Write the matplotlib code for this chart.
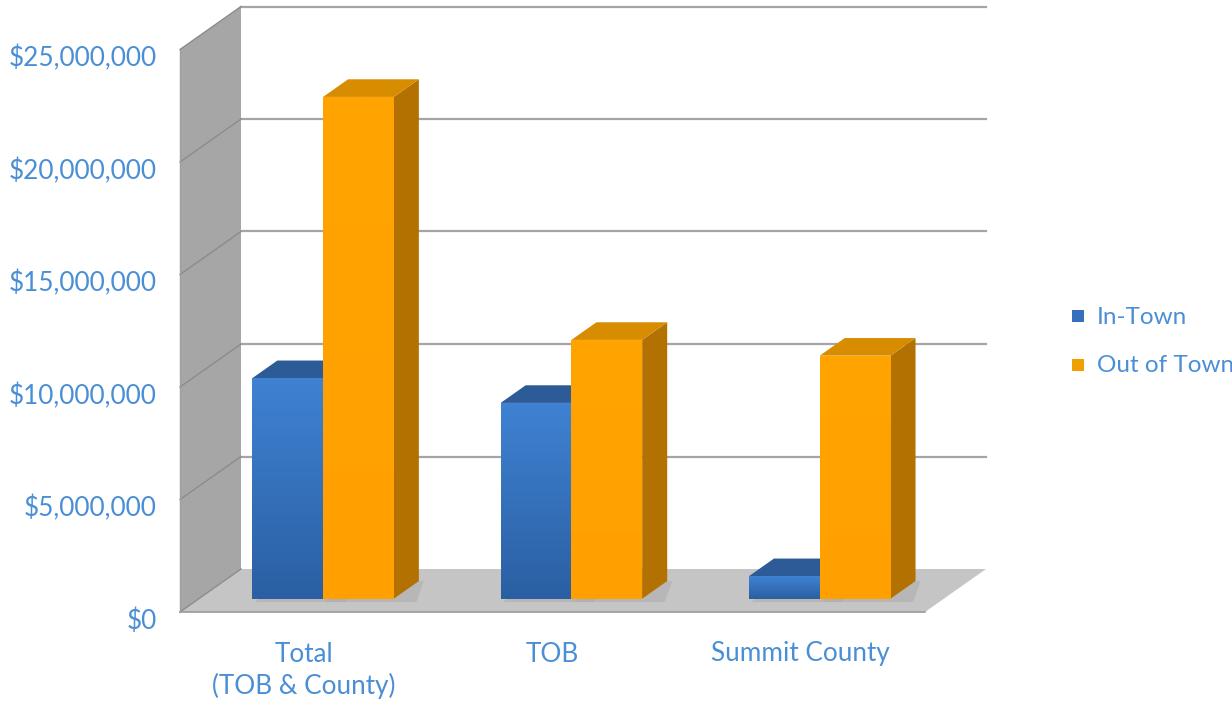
import matplotlib
matplotlib.use("Agg")
import matplotlib.pyplot as plt
from matplotlib.patches import Polygon, Rectangle
import numpy as np

categories = ["Total\n(TOB & County)", "TOB", "Summit County"]
series_names = ["In-Town", "Out of Town"]
in_town = [9.8e6, 8.7e6, 1.0e6]
out_of_town = [22.3e6, 11.5e6, 10.8e6]
y_ticks = [0, 5e6, 10e6, 15e6, 20e6, 25e6]
y_tick_labels = ["$0", "$5,000,000", "$10,000,000", "$15,000,000", "$20,000,000", "$25,000,000"]

TXT = "#4a8fd6"
plt.rcParams['font.family'] = ['Lato', 'DejaVu Sans']

W, H = 1232, 705
fig = plt.figure(figsize=(W / 100, H / 100), dpi=100)
ax = fig.add_axes([0, 0, 1, 1])
ax.set_axis_off()

# pixel scale: 248.33 px per category, 22.5 px per $1M
px_cat = 745 / 3.0
px_m = 22.5 / 1e6
x_left_px, y0_px = 180, 612
xlim = (-x_left_px / px_cat, (W - x_left_px) / px_cat)
ylim = (-(H - y0_px) / px_m, y0_px / px_m)

# depth offset (full depth) in data units
DDX = 61 / px_cat
DDY = 43 / px_m
ymax = 25e6
ncat = len(categories)

# side wall
ax.add_patch(Polygon([(0, 0), (0, ymax), (DDX, ymax + DDY), (DDX, DDY)],
                     closed=True, facecolor="#a6a6a6", edgecolor="none", zorder=1))
# floor
ax.add_patch(Polygon([(0, 0), (ncat, 0), (ncat + DDX, DDY), (DDX, DDY)],
                     closed=True, facecolor="#c5c5c5", edgecolor="none", zorder=1))
ax.plot([0, ncat], [0, 0], color="#9a9a9a", lw=1.2, zorder=1.5)
ax.plot([0, 0], [0, ymax], color="#9e9e9e", lw=1.0, zorder=1.5)
# gridlines
for v in y_ticks:
    if v > 0:
        ax.plot([DDX, ncat + DDX], [v + DDY, v + DDY], color="#a5a5a5", lw=1.6, zorder=1.2)
    ax.plot([0, DDX], [v, v + DDY], color="#8c8c8c", lw=1.0, zorder=1.2)

# bars
bw = 0.285
z0, z1 = 0.31, 0.72
styles = [
    dict(top="#2c5b97", side="#204880", grad=("#3f82d2", "#2b5fa3")),
    dict(top="#d88c00", side="#b27100", grad=("#ffa400", "#ffa000")),
]

def draw_bar(xc_left, val, st, zo):
    x0 = xc_left + z0 * DDX
    x1 = x0 + bw
    yb = z0 * DDY
    yt = val + z0 * DDY
    dx = (z1 - z0) * DDX
    dy = (z1 - z0) * DDY
    # shadow on floor
    ax.add_patch(Polygon([(x0 + 0.01, yb - 0.15e6), (x1 + dx * 0.9, yb - 0.15e6),
                          (x1 + dx * 1.2, yb + dy), (x0 + dx, yb + dy)],
                         closed=True, facecolor="#aaaaaa", edgecolor="none", alpha=0.5, zorder=zo - 0.5))
    # side
    ax.add_patch(Polygon([(x1, yb), (x1, yt), (x1 + dx, yt + dy), (x1 + dx, yb + dy)],
                         closed=True, facecolor=st["side"], edgecolor="none", zorder=zo))
    # top
    ax.add_patch(Polygon([(x0, yt), (x1, yt), (x1 + dx, yt + dy), (x0 + dx, yt + dy)],
                         closed=True, facecolor=st["top"], edgecolor="none", zorder=zo))
    # front with vertical gradient
    c1 = np.array(matplotlib.colors.to_rgb(st["grad"][0]))
    c2 = np.array(matplotlib.colors.to_rgb(st["grad"][1]))
    t = np.linspace(0, 1, 64)[:, None]
    img = (c1 * (1 - t) + c2 * t)[:, None, :]
    ax.imshow(img, extent=(x0, x1, yb, yt), aspect="auto", origin="upper",
              interpolation="bilinear", zorder=zo + 0.1)

zo = 3
for i in range(ncat):
    left0 = i + 0.5 - bw
    draw_bar(left0, in_town[i], styles[0], zo); zo += 1
    draw_bar(left0 + bw, out_of_town[i], styles[1], zo); zo += 1

ax.set_xlim(*xlim)
ax.set_ylim(*ylim)

FS = 18.8
# y tick labels
for v, lab in zip(y_ticks, y_tick_labels):
    ax.text(-23 / px_cat, v - 9 / px_m, lab, ha="right", va="center",
            fontsize=FS, color=TXT, zorder=20)

# x category labels (each line placed separately)
for i, lab in enumerate(categories):
    for k, line in enumerate(lab.split("\n")):
        ax.text(i + 0.5, -(42 + 32 * k) / px_m, line, ha="center", va="center",
                fontsize=FS, color=TXT, zorder=20)

# legend
leg_items = [(series_names[0], "#3470bb", 316), (series_names[1], "#f0a000", 365)]
for name, col, ypx in leg_items:
    fx = 1078 / W
    fy = 1 - ypx / H
    fig.patches.append(Rectangle((fx - 6 / W, fy - 6 / H), 12 / W, 12 / H,
                                 transform=fig.transFigure, facecolor=col,
                                 edgecolor="none", zorder=30))
    fig.text(1097 / W, fy - 1 / H, name, ha="left", va="center", fontsize=17.5, color=TXT)

fig.savefig("out.png", dpi=100)
